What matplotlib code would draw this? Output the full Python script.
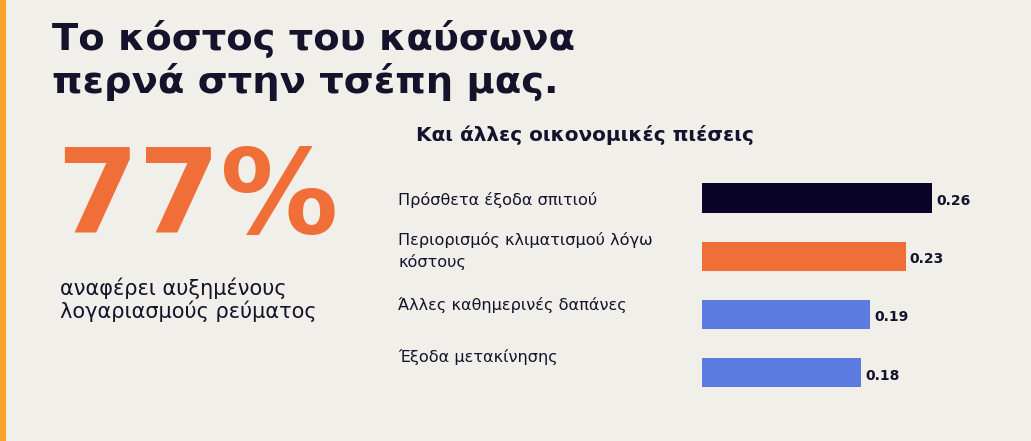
import matplotlib
matplotlib.use("Agg")
import matplotlib.pyplot as plt

# ------ дані
categories = ["Πρόσθετα έξοδα σπιτιού",
              "Περιορισμός κλιματισμού λόγω\nκόστους",
              "Άλλες καθημερινές δαπάνες",
              "Έξοδα μετακίνησης"]
values = [0.26, 0.23, 0.19, 0.18]
bar_colors = ["#0A0528", "#F06E38", "#5B7BE0", "#5B7BE0"]

title_lines = ["Το κόστος του καύσωνα", "περνά στην τσέπη μας."]
big_number = "77%"
big_caption = ["αναφέρει αυξημένους", "λογαριασμούς ρεύματος"]
chart_title = "Και άλλες οικονομικές πιέσεις"

BG = "#F0EFEA"
DARK = "#14132B"
W, H = 1031, 441

plt.rcParams['font.family'] = ['DejaVu Sans']

fig = plt.figure(figsize=(W / 100, H / 100), dpi=100, facecolor=BG)

def fx(px):
    return px / W

def fy(py):
    return 1 - py / H

# ------ смуга зліва
fig.add_artist(plt.Rectangle((0, 0), fx(6), 1, transform=fig.transFigure,
                             color="#FBA22D", lw=0))

# ------ заголовок
for line, base in zip(title_lines, [50, 93]):
    fig.text(fx(52), fy(base), line, fontsize=27.7, fontweight='bold',
             color=DARK, va='baseline', ha='left')

# ------ велике число
fig.text(fx(56), fy(233), big_number, fontsize=85, fontweight='bold',
         color="#F06E38", va='baseline', ha='left')
fig.text(fx(60), fy(295), big_caption[0], fontsize=15, color=DARK, va='baseline')
fig.text(fx(60), fy(318), big_caption[1], fontsize=15, color=DARK, va='baseline')

# ------ підзаголовок графіка
fig.text(fx(416), fy(141), chart_title, fontsize=14.4, fontweight='bold',
         color=DARK, va='baseline', ha='left')

# ------ стовпчики
px_per_unit = 885
xmax = 0.34
step = 58.3
top_px = 198 - step / 2
ax = fig.add_axes([fx(702), fy(top_px + 4 * step), xmax * px_per_unit / W, 4 * step / H])
ax.set_facecolor(BG)
ypos = list(range(len(values)))
ax.barh(ypos, values, height=0.5, color=bar_colors)
ax.set_xlim(0, xmax)
ax.set_ylim(3.5, -0.5)
ax.axis('off')
for y, v in zip(ypos, values):
    ax.annotate(f"{v:.2f}", (v, y), xytext=(3, -2), textcoords='offset points',
                fontsize=10, fontweight='bold', color=DARK, va='center', ha='left')

# ------ підписи категорій (зліва від стовпчиків)
label_centers = [200, 251, 305, 357]
for txt, yc in zip(categories, label_centers):
    fig.text(fx(398), fy(yc), txt, fontsize=11.6, color=DARK, va='center', ha='left',
             linespacing=1.4)

fig.savefig("out.png", dpi=100, facecolor=BG)
